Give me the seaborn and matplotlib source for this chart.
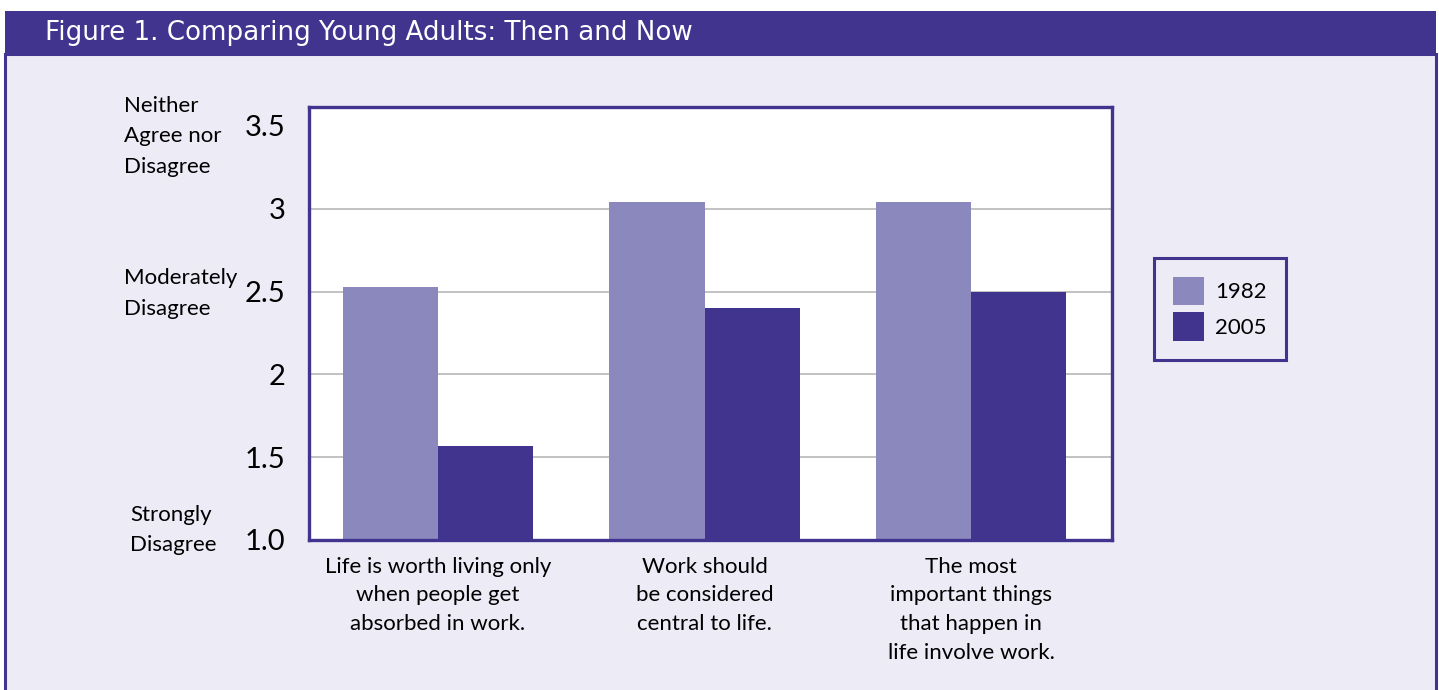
import matplotlib
matplotlib.use("Agg")
import matplotlib.pyplot as plt
from matplotlib.patches import Rectangle
import pandas as pd
import seaborn as sns

# Survey statements and mean agreement scores by year
statements = [
    "Life is worth living only\nwhen people get\nabsorbed in work.",
    "Work should\nbe considered\ncentral to life.",
    "The most\nimportant things\nthat happen in\nlife involve work.",
]
years = ["1982", "2005"]
scores_1982 = [2.53, 3.04, 3.04]
scores_2005 = [1.57, 2.40, 2.50]

ytick_values = [1.0, 1.5, 2.0, 2.5, 3.0, 3.5]
ytick_labels = ["1.0", "1.5", "2", "2.5", "3", "3.5"]
scale_labels = ["Neither\nAgree nor\nDisagree", "Moderately\nDisagree", "Strongly\nDisagree"]
title = "Figure 1. Comparing Young Adults: Then and Now"

df = pd.DataFrame({
    "statement": statements * 2,
    "year": [years[0]] * 3 + [years[1]] * 3,
    "score": scores_1982 + scores_2005,
})

LIGHT = "#8b88be"
DARK = "#41348f"
PANEL = "#edebf6"
GRID = "#b8b8b8"

sns.set_style("white")
plt.rcParams["font.family"] = ["Lato", "DejaVu Sans"]
plt.rcParams["text.color"] = "black"
plt.rcParams["xtick.color"] = "black"
plt.rcParams["ytick.color"] = "black"

W, H = 1439, 690
fig = plt.figure(figsize=(W / 100, H / 100), dpi=100, facecolor="white")

# Panel background and header bar
fig.patches.append(Rectangle((5 / W, -0.05), 1431 / W, 1.05 - 54 / H,
                             transform=fig.transFigure, facecolor=PANEL,
                             edgecolor=DARK, linewidth=2.2, zorder=-3))
fig.patches.append(Rectangle((5 / W, 1 - 54 / H), 1431 / W, 43 / H,
                             transform=fig.transFigure, facecolor=DARK,
                             edgecolor="none", zorder=-2))
fig.text(45 / W, 1 - 32.5 / H, title, color="white", fontsize=18.8,
         family=["DejaVu Sans"], va="center", ha="left")

ax = fig.add_axes([309 / W, 1 - 540 / H, (1112 - 309) / W, (540 - 107) / H])
ax.set_facecolor("white")

sns.barplot(data=df, x="statement", y="score", hue="year",
            palette=[LIGHT, DARK], saturation=1, width=0.713,
            linewidth=0, ax=ax, zorder=3)

ax.set_ylim(1.0, 3.614)
ax.set_xlim(-0.484, 2.529)
ax.set_yticks(ytick_values)
ax.set_yticklabels(ytick_labels, fontsize=21)
ax.tick_params(axis="y", length=0, pad=17)
ax.tick_params(axis="x", length=0, pad=12, labelsize=16)
for lab in ax.get_xticklabels():
    lab.set_linespacing(1.54)
ax.set_xlabel("")
ax.set_ylabel("")

ax.yaxis.grid(True, color=GRID, linewidth=1.2, zorder=0)
ax.set_axisbelow(True)
for line, v in zip(ax.yaxis.get_gridlines(), ytick_values):
    if v in (1.0, 3.5):
        line.set_visible(False)

for s in ax.spines.values():
    s.set_visible(True)
    s.set_color(DARK)
    s.set_linewidth(2.4)
    s.set_zorder(5)

# Verbal scale anchors beside the numeric axis
anchor_pos = [(124, 136.5), (124, 293.5), (130, 530)]
for text, (px, py) in zip(scale_labels, anchor_pos):
    fig.text(px / W, 1 - py / H, text, fontsize=16, ha="left", va="center",
             linespacing=1.66)

leg = ax.legend(loc="upper left", bbox_to_anchor=(1154 / W, 1 - 258 / H),
                bbox_transform=fig.transFigure, fontsize=16, frameon=True,
                fancybox=False, edgecolor=DARK, facecolor=PANEL, framealpha=1,
                handlelength=1.4, handleheight=1.6, handletextpad=0.5,
                labelspacing=0.3, borderpad=0.85, borderaxespad=0)
leg.get_frame().set_linewidth(2.2)
leg.set_title(None)

fig.savefig("out.png", dpi=100, facecolor="white")
